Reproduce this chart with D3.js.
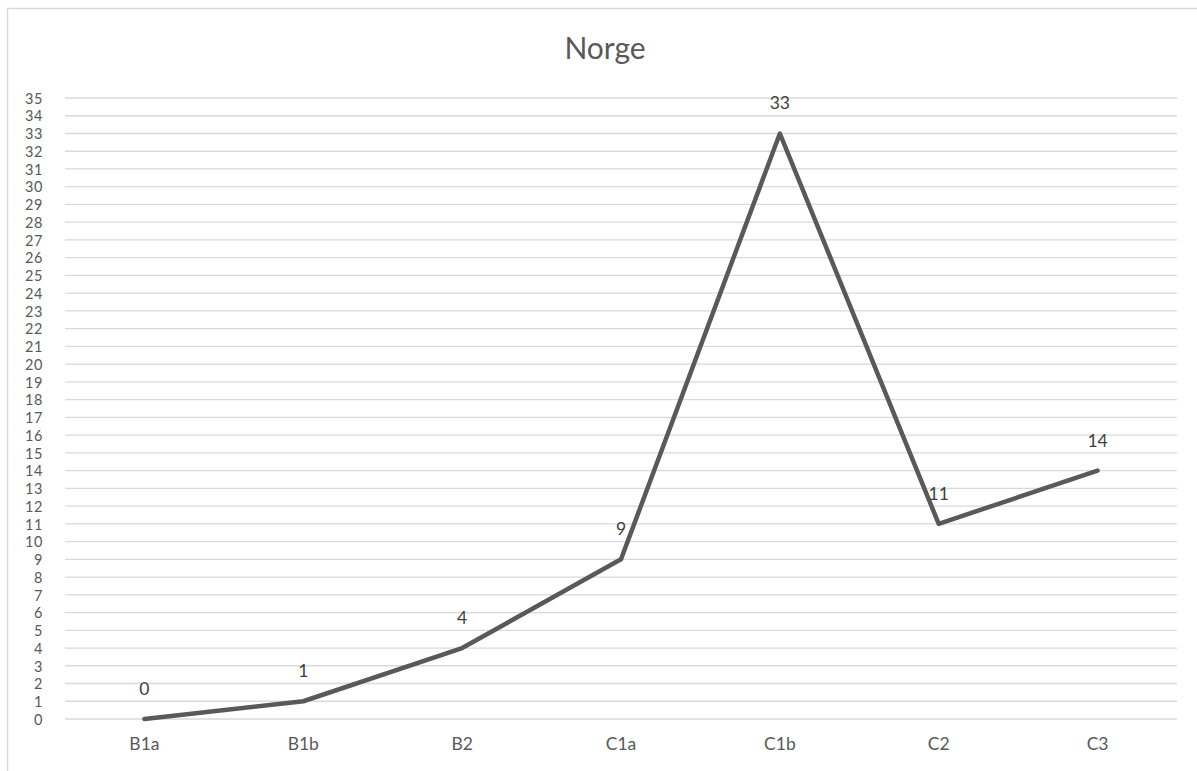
<!DOCTYPE html>
<html><head><meta charset="utf-8">
<script src="https://cdn.jsdelivr.net/npm/d3@7"></script>
<style>html,body{margin:0;padding:0;background:#fff;overflow:hidden}</style>
</head><body>
<svg id="chart" width="1197" height="771"></svg>
<script>
const categories = ["B1a","B1b","B2","C1a","C1b","C2","C3"];
const values = [0,1,4,9,33,11,14];
const yTicks = d3.range(0,36,1);
const title = "Norge";

const svg = d3.select("#chart");
const W = 1197, H = 771;
const m = {left:65, right:1177, top:98, bottom:719};
const font = "Lato, 'Open Sans', sans-serif";

// chart border
svg.append("rect").attr("x",7.5).attr("y",8.5).attr("width",1250).attr("height",800)
  .attr("fill","#fff").attr("stroke","#d9d9d9").attr("stroke-width",1.5);

const x = d3.scaleBand().domain(categories).range([m.left,m.right]);
const y = d3.scaleLinear().domain([0,35]).range([m.bottom,m.top]);

// gridlines
svg.append("g").selectAll("line").data(yTicks).join("line")
  .attr("x1",m.left).attr("x2",m.right)
  .attr("y1",d=>y(d)).attr("y2",d=>y(d))
  .attr("stroke","#d9d9d9").attr("stroke-width",1.3);

// y axis labels
const yAxis = svg.append("g").attr("transform",`translate(43,0)`)
  .call(d3.axisLeft(y).tickValues(yTicks).tickSize(0).tickPadding(0));
yAxis.select(".domain").remove();
yAxis.selectAll("text").attr("font-family",font).attr("font-size",14.5).attr("fill","#595959")
  .attr("dy","0.36em").attr("letter-spacing","0.6px");

// x axis labels
const xAxis = svg.append("g").attr("transform",`translate(0,${m.bottom+19})`)
  .call(d3.axisBottom(x).tickSize(0).tickPadding(0));
xAxis.select(".domain").remove();
xAxis.selectAll("text").attr("font-family",font).attr("font-size",17.5).attr("fill","#595959");

// line
const cx = d => x(d) + x.bandwidth()/2;
const line = d3.line().x((d,i)=>cx(categories[i])).y(d=>y(d));
svg.append("path").datum(values).attr("d",line)
  .attr("fill","none").attr("stroke","#595959").attr("stroke-width",4.5)
  .attr("stroke-linejoin","round").attr("stroke-linecap","round");

// data labels
svg.append("g").selectAll("text").data(values).join("text")
  .attr("x",(d,i)=>cx(categories[i]))
  .attr("y",d=>y(d)-24)
  .attr("text-anchor","middle")
  .attr("font-family",font).attr("font-size",17.5).attr("fill","#404040")
  .text(d=>d);

// title
svg.append("text").attr("x",605).attr("y",59).attr("text-anchor","middle")
  .attr("font-family",font).attr("font-size",30).attr("fill","#595959").text(title);
</script>
</body></html>
